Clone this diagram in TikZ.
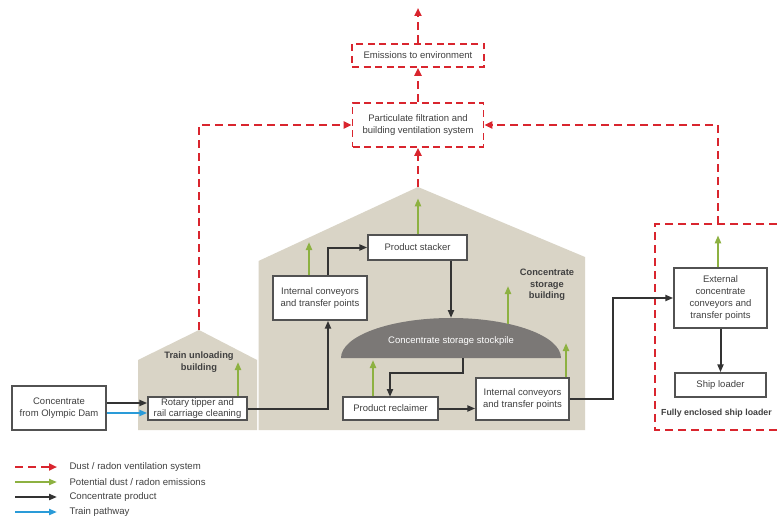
\documentclass[tikz,border=0pt]{standalone}
\usepackage{fontspec}
\setmainfont{Liberation Sans}
\usetikzlibrary{arrows.meta}
\definecolor{rd}{HTML}{D9252E}
\definecolor{gr}{HTML}{8DB141}
\definecolor{bk}{HTML}{333333}
\definecolor{bl}{HTML}{2A9BD8}
\definecolor{bldg}{HTML}{D9D4C6}
\definecolor{pile}{HTML}{7B7876}
\definecolor{txt}{HTML}{404040}
\begin{document}
\begin{tikzpicture}[x=1pt,y=-1pt,
  font=\fontsize{9.5}{11.8}\selectfont,
  box/.style={draw=bk!85, line width=1.4pt, fill=white, align=center, inner sep=1pt, text=txt},
  dbox/.style={draw=rd, line width=1.8pt, dash pattern=on 7pt off 4.5pt, fill=white, align=center, inner sep=1pt, text=txt},
  reddash/.style={draw=rd, line width=2pt, dash pattern=on 8pt off 5pt, -{Triangle[length=8pt,width=7pt]}},
  grn/.style={draw=gr, line width=2pt, -{Triangle[length=8pt,width=6pt]}},
  blk/.style={draw=bk, line width=2pt, -{Triangle[length=8pt,width=6pt]}},
  blu/.style={draw=bl, line width=2.2pt, -{Triangle[length=8pt,width=6pt]}},
  lbl/.style={font=\fontsize{9.3}{11.5}\selectfont\bfseries, text=txt, align=center},
  leg/.style={anchor=west, text=txt, font=\fontsize{9.6}{11}\selectfont}]
\clip (0,0) rectangle (777,516);
\fill[white] (0,0) rectangle (777,516);
% buildings
\fill[bldg] (138,430) -- (138,360) -- (199,330) -- (257,360) -- (257,430) -- cycle;
\fill[bldg] (258.5,430) -- (258.5,261) -- (418,187) -- (585,257) -- (585,430) -- cycle;
\fill[pile] (341,358) arc[start angle=180,end angle=0,x radius=110pt,y radius=40pt] -- cycle;
\node[text=white] (pilelbl) at (451,341) {Concentrate storage stockpile};
\node[lbl] (trainlbl) at (199,362) {Train unloading\\building};
\node[lbl] (storelbl) at (547,285) {Concentrate\\storage\\building};
% ship loader enclosure
\draw[rd, line width=1.8pt, dash pattern=on 8pt off 5pt] (790,224) -- (655,224) -- (655,430) -- (790,430);
\node[anchor=west, text=txt, font=\fontsize{8.8}{11}\selectfont\bfseries, inner sep=1pt] (shiplbl) at (660,413) {Fully enclosed ship loader};
% boxes
\node[box, minimum width=94pt, minimum height=44pt] (src) at (59,408) {Concentrate\\from Olympic Dam};
\node[box, minimum width=99pt, minimum height=23pt] (rot) at (197.5,408.5) {Rotary tipper and\\rail carriage cleaning};
\node[box, minimum width=94pt, minimum height=44pt] (icl) at (320,298) {Internal conveyors\\and transfer points};
\node[box, minimum width=99pt, minimum height=25pt] (stack) at (417.5,247.5) {Product stacker};
\node[box, minimum width=95pt, minimum height=23pt] (recl) at (390.5,408.5) {Product reclaimer};
\node[box, minimum width=93pt, minimum height=42pt] (icr) at (522.5,399) {Internal conveyors\\and transfer points};
\node[box, minimum width=93pt, minimum height=60pt] (ext) at (720.5,298) {External\\concentrate\\conveyors and\\transfer points};
\node[box, minimum width=91pt, minimum height=24pt] (ship) at (720.5,385) {Ship loader};
\node[dbox, minimum width=132pt, minimum height=23pt] (emis) at (418,55.5) {Emissions to environment};
\node[dbox, minimum width=131pt, minimum height=44pt] (part) at (418,125) {Particulate filtration and\\building ventilation system};
% coordinates
\coordinate (trainTop) at (199,330);
\coordinate (storeTop) at (418,187);
\coordinate (encTop) at (718,224);
\coordinate (skyTop) at (418,8);
\coordinate (pileTop) at (451,318);
\coordinate (pileBot) at (463,358);
\coordinate (reclIn) at (390,397);
\coordinate (jx1) at (328,320);
\coordinate (jx2) at (613,298);
% red dashed ventilation
\draw[reddash] (trainTop) |- (part.west);
\draw[reddash] (storeTop) -- (part.south);
\draw[reddash] (encTop) |- (part.east);
\draw[reddash] (part.north) -- (emis.south);
\draw[reddash] (emis.north) -- (skyTop);
% green emissions
\coordinate (g1) at (238,362);
\draw[grn] (rot.north -| g1) -- (g1);
\coordinate (g2) at (309,242);
\draw[grn] (icl.north -| g2) -- (g2);
\draw[grn] (stack.north -| storeTop) -- ++(0,-36) coordinate (g3);
\coordinate (g4a) at (508,324);
\draw[grn] (g4a) -- ++(0,-38) coordinate (g4);
\coordinate (g5) at (373,360);
\draw[grn] (recl.north -| g5) -- (g5);
\coordinate (g6) at (566,343);
\draw[grn] (icr.north -| g6) -- (g6);
\draw[grn] (ext.north -| encTop) -- ++(0,-32) coordinate (g7);
% black product flow
\draw[blk] ([yshift=5pt]src.east) -- ([yshift=5pt]src.east -| rot.west);
\draw[blu] ([yshift=-5pt]src.east) -- ([yshift=-5pt]src.east -| rot.west);
\draw[blk] (rot.east) -| (icl.south -| jx1);
\draw[blk] (icl.north -| jx1) |- (stack.west);
\draw[blk] (stack.south -| pileTop) -- (pileTop);
\draw[blk] (pileBot) -- ++(0,15) -| (reclIn);
\draw[blk] (recl.east) -- (recl.east -| icr.west);
\draw[blk] (icr.east) -| (jx2) -- (jx2 -| ext.west);
\draw[blk] (ext.south) -- (ship.north);
% legend
\coordinate (l1) at (15,467); \coordinate (l2) at (15,482);
\coordinate (l3) at (15,497); \coordinate (l4) at (15,512);
\draw[reddash] (l1) -- ++(42,0) coordinate (l1e);
\draw[grn] (l2) -- ++(42,0) coordinate (l2e);
\draw[blk] (l3) -- ++(42,0) coordinate (l3e);
\draw[blu] (l4) -- ++(42,0) coordinate (l4e);
\node[leg] (t1) at (66,467) {Dust / radon ventilation system};
\node[leg] (t2) at (66,482) {Potential dust / radon emissions};
\node[leg] (t3) at (66,497) {Concentrate product};
\node[leg] (t4) at (66,512) {Train pathway};
\end{tikzpicture}
\end{document}
